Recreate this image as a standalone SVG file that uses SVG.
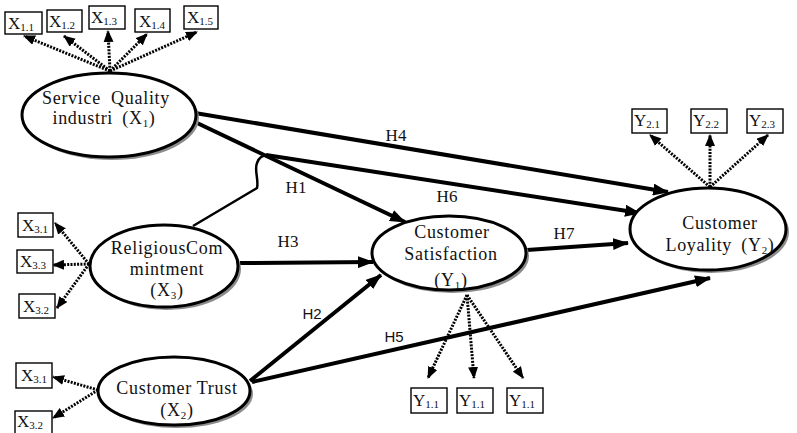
<svg xmlns="http://www.w3.org/2000/svg" width="797" height="433" viewBox="0 0 797 433">
<style>
.node-shadow{fill:#8c8c8c;stroke:none}
.node{fill:#fff;stroke:#000;stroke-width:3}
.box{fill:#fff;stroke:#000;stroke-width:1.4}
.t{font-size:18px;letter-spacing:0.7px;fill:#111;text-anchor:middle}
.bt{font-size:17px;fill:#111}
.sub{font-size:11px}
.lbl{font-size:17px;fill:#111;text-anchor:middle}
.lbls{font-size:15px;fill:#111;text-anchor:middle}
.dot{fill:none;stroke:#000;stroke-width:3;stroke-dasharray:2 1.3;marker-end:url(#ad)}
.sol{fill:none;stroke:#000;stroke-width:4;marker-end:url(#as)}
.thin{fill:none;stroke:#000;stroke-width:2.5}
</style>
<defs>
<marker id="ad" markerUnits="userSpaceOnUse" markerWidth="12" markerHeight="10" refX="11" refY="5" orient="auto" viewBox="0 0 12 10">
<path d="M0,0 L12,5 L0,10 z" fill="#000"/>
</marker>
<marker id="as" markerUnits="userSpaceOnUse" markerWidth="16" markerHeight="12" refX="15" refY="6" orient="auto" viewBox="0 0 16 12">
<path d="M0,0 L16,6 L0,12 z" fill="#000"/>
</marker>
</defs>

<g id="connectors">
<path class="dot" d="M110,71 L24,36"/>
<path class="dot" d="M110,71 L64,36"/>
<path class="dot" d="M110,71 L108,31"/>
<path class="dot" d="M110,71 L147,34"/>
<path class="dot" d="M110,71 L197,32"/>
<path class="dot" d="M89,264 L55,223"/>
<path class="dot" d="M89,264 L53,265"/>
<path class="dot" d="M89,264 L57,308"/>
<path class="dot" d="M98,390 L53,377"/>
<path class="dot" d="M98,390 L53,418"/>
<path class="dot" d="M467,295 L428,378"/>
<path class="dot" d="M467,295 L474,378"/>
<path class="dot" d="M467,295 L523,378"/>
<path class="dot" d="M710,187 L650,135"/>
<path class="dot" d="M710,187 L710,135"/>
<path class="dot" d="M710,187 L768,135"/>
<path class="sol" d="M195,113 L668,192"/>
<path class="thin" d="M193,226 L257,188 C259,180 254,170 257,163 C259,157 263,155 268,155"/>
<path class="sol" d="M266,155 L640,213"/>
<path class="sol" d="M195,122 L405,222"/>
<path class="sol" d="M240,263 L373,262"/>
<path class="sol" d="M250,381 L381,275"/>
<path class="sol" d="M252,382 L710,278"/>
<path class="sol" d="M527,250 L628,243"/>
<g font-family="'Liberation Serif', 'Times New Roman', serif">
<text class="lbl" x="396" y="141">H4</text>
<text class="lbl" x="296" y="193">H1</text>
<text class="lbl" x="447" y="202">H6</text>
<text class="lbl" x="564" y="239">H7</text>
<text class="lbl" x="288" y="247">H3</text>
</g>
<g font-family="'Liberation Sans', Arial, sans-serif">
<text class="lbls" x="312" y="319">H2</text>
<text class="lbls" x="394" y="342">H5</text>
</g>
</g>

<g id="nodes" font-family="'Liberation Serif', 'Times New Roman', serif">
<g id="n-sq">
<ellipse class="node-shadow" cx="112" cy="118" rx="87" ry="42"/>
<ellipse class="node" cx="109" cy="115" rx="87" ry="42"/>
<text class="t" x="106" y="104" word-spacing="5">Service Quality</text>
<text class="t" x="104" y="124" word-spacing="4">industri (X<tspan class="sub" dy="3">1</tspan><tspan dy="-3">)</tspan></text>
</g>

<g id="n-rc">
<ellipse class="node-shadow" cx="167" cy="269" rx="74" ry="41"/>
<ellipse class="node" cx="164" cy="266" rx="74" ry="41"/>
<text class="t" x="167" y="254">ReligiousCom</text>
<text class="t" x="167" y="275">mintment</text>
<text class="t" x="167" y="296">(X<tspan class="sub" dy="3">3</tspan><tspan dy="-3">)</tspan></text>
</g>

<g id="n-ct">
<ellipse class="node-shadow" cx="177" cy="394" rx="76" ry="34"/>
<ellipse class="node" cx="174" cy="391" rx="76" ry="34"/>
<text class="t" x="177" y="394">Customer Trust</text>
<text class="t" x="177" y="416">(X<tspan class="sub" dy="3">2</tspan><tspan dy="-3">)</tspan></text>
</g>

<g id="n-cs">
<ellipse class="node-shadow" cx="452" cy="256" rx="77" ry="37"/>
<ellipse class="node" cx="449" cy="253" rx="77" ry="37"/>
<text class="t" x="452" y="238">Customer</text>
<text class="t" x="451" y="260">Satisfaction</text>
<text class="t" x="451" y="286">(Y<tspan class="sub" dy="3">1</tspan><tspan dy="-3">)</tspan></text>
</g>

<g id="n-cl">
<ellipse class="node-shadow" cx="711" cy="232" rx="78" ry="41"/>
<ellipse class="node" cx="708" cy="229" rx="78" ry="41"/>
<text class="t" x="720" y="229">Customer</text>
<text class="t" x="720" y="251" word-spacing="4">Loyality (Y<tspan class="sub" dy="3">2</tspan><tspan dy="-3">)</tspan></text>
</g>

<g id="b-x11"><rect class="box" x="5" y="12" width="37" height="22"/><text class="bt" x="8" y="29">X<tspan class="sub" dy="2">1.1</tspan></text></g>
<g id="b-x12"><rect class="box" x="47" y="10" width="35" height="22"/><text class="bt" x="49" y="27">X<tspan class="sub" dy="2">1.2</tspan></text></g>
<g id="b-x13"><rect class="box" x="89" y="6" width="36" height="23"/><text class="bt" x="91" y="23">X<tspan class="sub" dy="2">1.3</tspan></text></g>
<g id="b-x14"><rect class="box" x="135" y="9" width="35" height="23"/><text class="bt" x="139" y="27">X<tspan class="sub" dy="2">1.4</tspan></text></g>
<g id="b-x15"><rect class="box" x="184" y="6" width="34" height="23"/><text class="bt" x="187" y="23">X<tspan class="sub" dy="2">1.5</tspan></text></g>
<g id="b-x31a"><rect class="box" x="18" y="213" width="35" height="24"/><text class="bt" x="22" y="231">X<tspan class="sub" dy="2">3.1</tspan></text></g>
<g id="b-x33"><rect class="box" x="17" y="250" width="36" height="23"/><text class="bt" x="20" y="267">X<tspan class="sub" dy="2">3.3</tspan></text></g>
<g id="b-x32a"><rect class="box" x="19" y="294" width="36" height="24"/><text class="bt" x="23" y="312">X<tspan class="sub" dy="2">3.2</tspan></text></g>
<g id="b-x31b"><rect class="box" x="16" y="363" width="36" height="25"/><text class="bt" x="21" y="381">X<tspan class="sub" dy="2">3.1</tspan></text></g>
<g id="b-x32b"><rect class="box" x="15" y="411" width="37" height="25"/><text class="bt" x="17" y="427">X<tspan class="sub" dy="2">3.2</tspan></text></g>
<g id="b-y11a"><rect class="box" x="411" y="388" width="36" height="25"/><text class="bt" x="413" y="406">Y<tspan class="sub" dy="2">1.1</tspan></text></g>
<g id="b-y11b"><rect class="box" x="457" y="388" width="36" height="25"/><text class="bt" x="459" y="406">Y<tspan class="sub" dy="2">1.1</tspan></text></g>
<g id="b-y11c"><rect class="box" x="507" y="388" width="36" height="25"/><text class="bt" x="509" y="406">Y<tspan class="sub" dy="2">1.1</tspan></text></g>
<g id="b-y21"><rect class="box" x="632" y="109" width="35" height="24"/><text class="bt" x="634" y="126">Y<tspan class="sub" dy="2">2.1</tspan></text></g>
<g id="b-y22"><rect class="box" x="691" y="109" width="36" height="24"/><text class="bt" x="693" y="126">Y<tspan class="sub" dy="2">2.2</tspan></text></g>
<g id="b-y23"><rect class="box" x="747" y="109" width="36" height="24"/><text class="bt" x="749" y="126">Y<tspan class="sub" dy="2">2.3</tspan></text></g>
</g>
</svg>
